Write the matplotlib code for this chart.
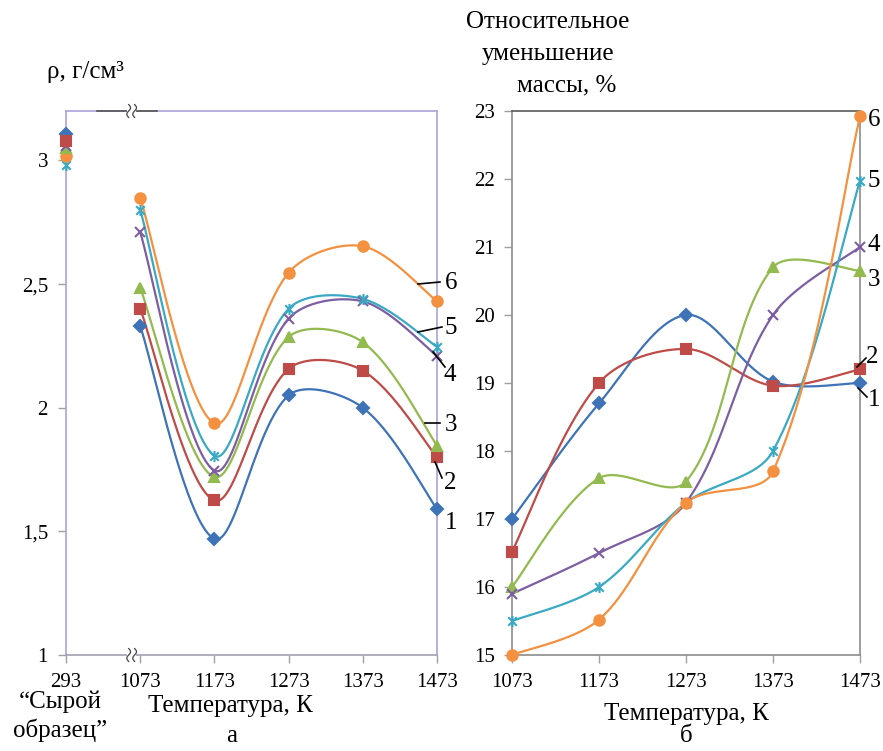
import numpy as np
import matplotlib
matplotlib.use("Agg")
import matplotlib.pyplot as plt
from matplotlib.lines import Line2D
from matplotlib.path import Path

plt.rcParams['font.family'] = ['Liberation Serif', 'DejaVu Serif']

# ---- data -------------------------------------------------------------
temps_a = ['293', '1073', '1173', '1273', '1373', '1473']
raw_density = [3.105, 3.077, 3.05, 3.06, 2.98, 3.016]   # series 1..6 at 293 K
density = [
    [2.33, 1.47, 2.05, 2.00, 1.59],   # 1
    [2.40, 1.625, 2.157, 2.15, 1.80],  # 2
    [2.485, 1.72, 2.286, 2.265, 1.847],  # 3
    [2.71, 1.746, 2.36, 2.43, 2.21],   # 4
    [2.80, 1.806, 2.40, 2.44, 2.246],  # 5
    [2.85, 1.937, 2.546, 2.653, 2.43],  # 6
]

temps_b = ['1073', '1173', '1273', '1373', '1473']
mass_loss = [
    [17.0, 18.7, 20.0, 19.02, 19.0],   # 1
    [16.52, 19.0, 19.5, 18.96, 19.2],  # 2
    [16.0, 17.6, 17.55, 20.7, 20.65],  # 3
    [15.9, 16.5, 17.24, 20.0, 21.0],   # 4
    [15.5, 16.0, 17.24, 18.0, 21.97],  # 5
    [15.0, 15.52, 17.24, 17.7, 22.92],  # 6
]
series_names = ['1', '2', '3', '4', '5', '6']

# ---- style --------------------------------------------------------------
colors = ['#3f73b8', '#be4b48', '#93ba4f', '#7d5ea3', '#3aa9c4', '#f39140']

star = Path([(-1, -1), (1, 1), (-1, 1), (1, -1), (0, -1.3), (0, 1.3)],
            [Path.MOVETO, Path.LINETO, Path.MOVETO, Path.LINETO,
             Path.MOVETO, Path.LINETO])
markers = ['D', 's', '^', 'x', star, 'o']
msizes = [6, 7.5, 7.5, 7.5, 8, 7.5]

W, H = 883, 751


def fx(px):
    return px / W


def fy(py):
    return 1 - py / H


def smooth(xs, ys, sx=1.0, sy=1.0, n=50):
    # Excel-like smoothed line: Bezier segments whose control points are
    # scaled by neighbouring chord lengths (computed in screen units)
    p = np.column_stack([np.asarray(xs, float) * sx, np.asarray(ys, float) * sy])
    k = len(p)
    L = np.hypot(*np.diff(p, axis=0).T)
    cout = np.zeros_like(p)
    cin = np.zeros_like(p)
    for i in range(k):
        if i == 0:
            cout[i] = p[i] + (p[i + 1] - p[i]) / 6
        elif i == k - 1:
            cin[i] = p[i] - (p[i] - p[i - 1]) / 6
        else:
            d = p[i + 1] - p[i - 1]
            lp, ln = L[i - 1], L[i]
            cout[i] = p[i] + d * ln / (lp + ln) / 3
            cin[i] = p[i] - d * lp / (lp + ln) / 3
    out = []
    t = np.linspace(0, 1, n)[:, None]
    for i in range(k - 1):
        seg = ((1 - t) ** 3 * p[i] + 3 * (1 - t) ** 2 * t * cout[i]
               + 3 * (1 - t) * t ** 2 * cin[i + 1] + t ** 3 * p[i + 1])
        out.append(seg if i == 0 else seg[1:])
    out = np.vstack(out)
    return out[:, 0] / sx, out[:, 1] / sy


fig = plt.figure(figsize=(W / 100, H / 100), dpi=100)

# ---- panel a ------------------------------------------------------------
axa = fig.add_axes([fx(66), fy(655), fx(437) - fx(66), fy(111) - fy(655)])
xa = np.arange(1, 6)
for i in range(6):
    cx, cy = smooth(xa, density[i], 74.2, 248)
    axa.plot(cx, cy, color=colors[i], lw=1.6, zorder=3)
    axa.plot(xa, density[i], ls='none', marker=markers[i], ms=msizes[i],
             color=colors[i], mew=1.5, clip_on=False, zorder=4)
for i in [4, 5, 2, 3, 0, 1]:
    axa.plot([0], [raw_density[i]], ls='none', marker=markers[i], ms=msizes[i],
             color=colors[i], mew=1.5, clip_on=False, zorder=4)

axa.set_xlim(0, 5)
axa.set_ylim(1, 3.2)
axa.set_xticks(range(6))
axa.set_xticklabels(temps_a)
axa.set_yticks([1, 1.5, 2, 2.5, 3])
axa.set_yticklabels(['1', '1,5', '2', '2,5', '3'])
axa.tick_params(labelsize=15, length=6, width=1, color='#a0a0a0')
axa.tick_params(axis='x', pad=7)
axa.tick_params(axis='y', pad=7)
for s in ['left', 'top', 'right']:
    axa.spines[s].set_color('#aaa4d8')
axa.spines['bottom'].set_color('#a0a0b0')
for s in axa.spines.values():
    s.set_linewidth(1.2)

# axis break marks on top and bottom spines
axa.plot([0.42, 1.23], [3.2, 3.2], color='#555555', lw=1.2, clip_on=False, zorder=5)
for yb in [3.2, 1.0]:
    axa.plot([0.85, 0.92], [yb, yb], color='white', lw=3, clip_on=False, zorder=6)
    t = np.linspace(-1, 1, 30)
    for xc in [0.845, 0.925]:
        axa.plot(xc + 0.025 * np.sin(np.pi * t), yb + 0.026 * t,
                 color='#444444', lw=0.9, clip_on=False, zorder=7)

# ---- panel b ------------------------------------------------------------
axb = fig.add_axes([fx(512), fy(655), fx(860) - fx(512), fy(111) - fy(655)])
xb = np.arange(5)
for i in range(6):
    cx, cy = smooth(xb, mass_loss[i], 87, 68)
    axb.plot(cx, cy, color=colors[i], lw=1.6, zorder=3)
    axb.plot(xb, mass_loss[i], ls='none', marker=markers[i], ms=msizes[i],
             color=colors[i], mew=1.5, clip_on=False, zorder=4)
axb.set_xlim(0, 4)
axb.set_ylim(15, 23)
axb.set_xticks(range(5))
axb.set_xticklabels(temps_b)
axb.set_yticks(range(15, 24))
axb.tick_params(labelsize=15, length=6, width=1, color='#a0a0a0')
axb.tick_params(axis='x', pad=7)
axb.tick_params(axis='y', pad=6)
for s in axb.spines.values():
    s.set_color('#8c8c8c')
    s.set_linewidth(1.2)
axb.spines['top'].set_color('#5a5a5a')

# ---- texts --------------------------------------------------------------
fs = 18
fig.text(fx(47), fy(72), 'ρ, г/см³', fontsize=fs, va='center', ha='left')
fig.text(fx(548), fy(22), 'Относительное', fontsize=fs, ha='center', va='center')
fig.text(fx(548), fy(54), 'уменьшение', fontsize=fs, ha='center', va='center')
fig.text(fx(567), fy(85), 'массы, %', fontsize=fs, ha='center', va='center')

fig.text(fx(60), fy(702), '“Сырой', fontsize=fs, ha='center', va='center')
fig.text(fx(60), fy(730), 'образец”', fontsize=fs, ha='center', va='center')
fig.text(fx(230), fy(706), 'Температура, К', fontsize=fs, ha='center', va='center')
fig.text(fx(232), fy(736), 'а', fontsize=fs, ha='center', va='center')
fig.text(fx(686), fy(714), 'Температура, К', fontsize=fs, ha='center', va='center')
fig.text(fx(686), fy(736), 'б', fontsize=fs, ha='center', va='center')

# series labels, panel a
labels_a = [(451, 523), (450, 483), (451, 425), (450, 375), (451, 328), (451, 283)]
for name, (x, y) in zip(series_names, labels_a):
    fig.text(fx(x), fy(y), name, fontsize=fs, ha='center', va='center')
leaders_a = [((435, 462), (442, 478)), ((425, 423), (440, 423)),
             ((433, 352), (445, 367)), ((418, 332), (442, 327)),
             ((418, 284), (440, 282))]
for (x1, y1), (x2, y2) in leaders_a:
    fig.add_artist(Line2D([fx(x1), fx(x2)], [fy(y1), fy(y2)],
                          transform=fig.transFigure, color='black', lw=1.2))

# series labels, panel b
labels_b = [(874, 400), (872, 357), (874, 280), (874, 245), (874, 181), (874, 120)]
for name, (x, y) in zip(series_names, labels_b):
    fig.text(fx(x), fy(y), name, fontsize=fs, ha='center', va='center')
leaders_b = [((858, 388), (867, 397)), ((857, 367), (866, 358))]
for (x1, y1), (x2, y2) in leaders_b:
    fig.add_artist(Line2D([fx(x1), fx(x2)], [fy(y1), fy(y2)],
                          transform=fig.transFigure, color='black', lw=1.2))

fig.savefig('out.png', dpi=100)
